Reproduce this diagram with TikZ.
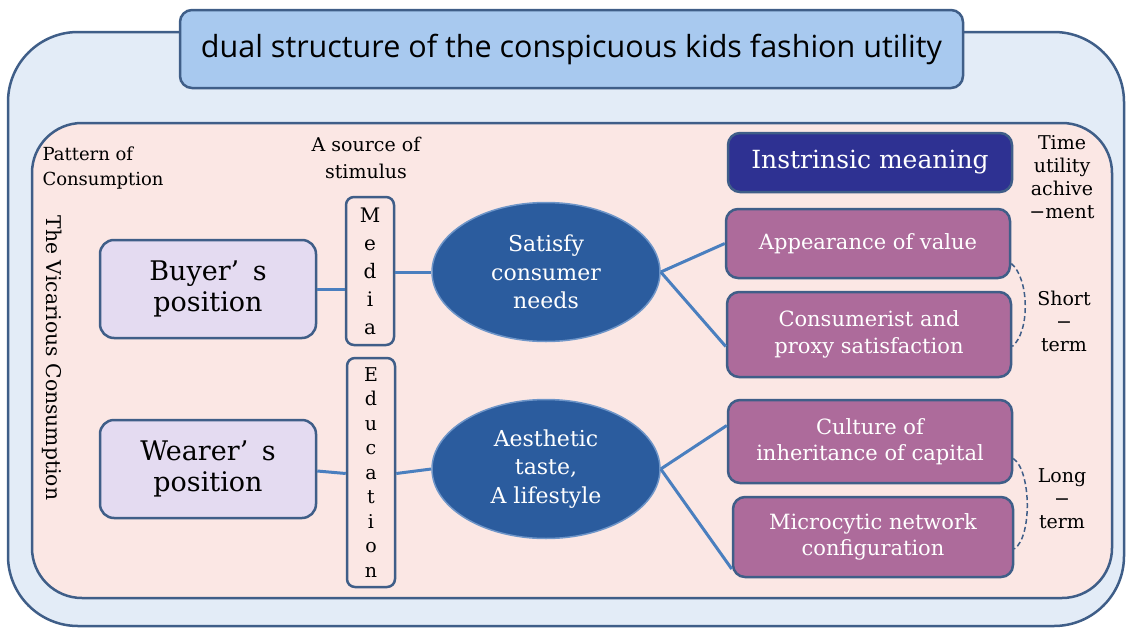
\documentclass[tikz,border=0pt]{standalone}
\usepackage{fontspec}
\setmainfont{DejaVu Serif}
\newfontfamily\headfont{Open Sans}
\usetikzlibrary{shapes.geometric}

\definecolor{framecol}{HTML}{3F5E88}
\definecolor{outerfill}{HTML}{E3ECF7}
\definecolor{innerfill}{HTML}{FBE7E4}
\definecolor{titlefill}{HTML}{A8C9EF}
\definecolor{posfill}{HTML}{E4DBF1}
\definecolor{ellfill}{HTML}{2B5C9E}
\definecolor{ellrim}{HTML}{6E95C8}
\definecolor{linkcol}{HTML}{4A7FBF}
\definecolor{navyfill}{HTML}{2E3192}
\definecolor{mauvefill}{HTML}{AD6B9B}

\tikzset{
    frame/.style={draw=framecol, line width=2.5pt},
    posbox/.style={frame, fill=posfill, rounded corners=14pt, align=center,
        minimum width=216pt, minimum height=98pt,
        font=\fontsize{27}{31}\selectfont},
    letterbox/.style={frame, fill=innerfill, rounded corners=8pt, align=center,
        minimum width=48pt, inner sep=2pt},
    needs/.style={ellipse, draw=ellrim, line width=1.5pt, fill=ellfill, text=white,
        minimum width=228pt, minimum height=139pt, inner sep=0pt, align=center,
        font=\fontsize{22}{28.5}\selectfont},
    meanbox/.style={frame, fill=mauvefill, text=white, rounded corners=12pt,
        align=center, minimum width=284pt, font=\fontsize{21}{26.5}\selectfont},
    link/.style={draw=linkcol, line width=3pt},
    span/.style={draw=framecol, line width=1.5pt, dash pattern=on 5pt off 3pt},
    note/.style={align=center, font=\fontsize{19}{23}\selectfont}
}

\begin{document}
\begin{tikzpicture}[x=1pt, y=-1pt]
    \useasboundingbox (0,0) rectangle (1127,629);

    % frames
    \draw[frame, fill=outerfill, rounded corners=70pt] (8,32) rectangle (1124,626);
    \draw[frame, fill=innerfill, rounded corners=50pt] (32,123) rectangle (1112,598);
    \node[frame, fill=titlefill, rounded corners=12pt, minimum width=783pt,
        minimum height=78pt, font=\headfont\fontsize{30.5}{34}\selectfont]
        (title) at (571.5,49) {dual structure of the conspicuous kids fashion utility};

    % column headings
    \node[anchor=north west, align=left, font=\fontsize{18}{25}\selectfont]
        (pattern) at (39,143) {Pattern of\\Consumption};
    \node[align=center, font=\fontsize{19}{27}\selectfont]
        (source) at (366,158) {A source of\\stimulus};
    \node[rotate=-90, font=\fontsize{20.3}{24}\selectfont]
        (vicarious) at (52,358) {The Vicarious Consumption};

    % positions
    \node[posbox] (buyer) at (208,289) {Buyer’\hspace{0.5em}s\\position};
    \node[posbox] (wearer) at (208,469) {Wearer’\hspace{0.5em}s\\position};

    % stimulus sources
    \node[letterbox, minimum height=148pt, font=\fontsize{20}{28}\selectfont]
        (media) at (370,271) {M\\e\\d\\i\\a};
    \node[letterbox, minimum height=229pt, font=\fontsize{19}{24.5}\selectfont]
        (education) at (371,472.5) {E\\d\\u\\c\\a\\t\\i\\o\\n};

    % needs
    \node[needs] (satisfy) at (546,272) {Satisfy\\consumer\\needs};
    \node[needs] (taste) at (546,469) {Aesthetic\\taste,\\A lifestyle};

    % meanings
    \node[frame, fill=navyfill, text=white, rounded corners=12pt, minimum width=284pt,
        minimum height=59pt, font=\fontsize{25}{30}\selectfont]
        (intrinsic) at (870,162.5) {Instrinsic meaning};
    \node[meanbox, minimum height=69pt] (appear) at (868,243.5) {Appearance of value};
    \node[meanbox, minimum height=85pt] (consum) at (869,334.5) {Consumerist and\\proxy satisfaction};
    \node[meanbox, minimum height=83pt] (culture) at (870,441.5) {Culture of\\inheritance of capital};
    \node[meanbox, minimum height=80pt, minimum width=280pt] (micro) at (873,537) {Microcytic network\\configuration};

    % links
    \draw[link] (buyer.east) -- ([yshift=-18pt]media.west);
    \draw[link] (media.east |- satisfy.west) -- (satisfy.west);
    \draw[link] ([yshift=-2pt]wearer.east) -- ([yshift=-1pt]education.west);
    \draw[link] ([yshift=-1pt]education.east) -- (taste.west);
    \draw[link] (satisfy.east) -- (appear.west);
    \draw[link] (satisfy.east) -- ([yshift=-12pt]consum.west);
    \draw[link] (taste.east) -- ([yshift=16pt]culture.west);
    \draw[link] (taste.east) -- ([yshift=-32pt]micro.west);

    % time spans
    \draw[span]
        ([yshift=-20pt]appear.east) .. controls +(18,15) and +(18,-15) .. ([yshift=-12pt]consum.east);
    \draw[span]
        ([yshift=-17pt]culture.east) .. controls +(18,12) and +(18,-12) .. ([yshift=-12pt]micro.east);

    \node[note] (time) at (1062,177) {Time\\utility\\achive\\−ment};
    \node[note] (short) at (1064,321) {Short\\−\\term};
    \node[note] (long) at (1062,499) {Long\\−\\term};
\end{tikzpicture}
\end{document}
